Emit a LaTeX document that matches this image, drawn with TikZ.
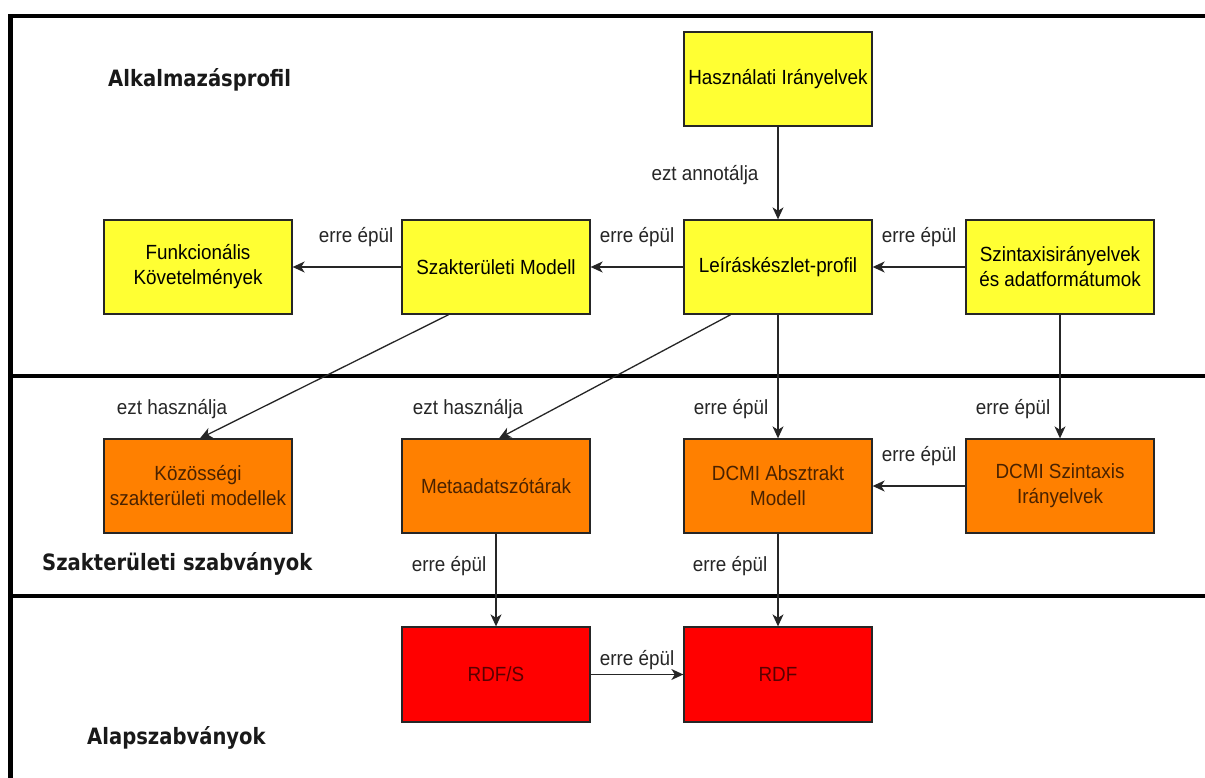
\documentclass[tikz,border=0pt]{standalone}
\usepackage{fontspec}
\setmainfont{Liberation Sans}[FakeStretch=0.92]
\newfontfamily\headfont{DejaVu Sans}[FakeStretch=0.87]
\usetikzlibrary{arrows.meta,calc}
\definecolor{ylw}{HTML}{FFFF33}
\definecolor{org}{HTML}{FF8000}
\definecolor{rd}{HTML}{FF0000}
\definecolor{edgec}{HTML}{262626}
\definecolor{orgtext}{HTML}{4A2200}
\definecolor{rdtext}{HTML}{5A0000}
\begin{document}
\begin{tikzpicture}[x=1pt,y=-1pt,
  box/.style={draw=edgec, line width=1.3pt, minimum width=188pt, minimum height=94pt,
    inner sep=0pt, align=center, font=\fontsize{20.5}{25}\selectfont},
  ybox/.style={box, fill=ylw, text=black},
  obox/.style={box, fill=org, text=orgtext},
  rbox/.style={box, fill=rd, text=rdtext, minimum height=95pt},
  conn/.style={draw=edgec, line width=1.3pt, -{Stealth[length=12pt,width=11pt,inset=3.5pt]}},
  lbl/.style={font=\fontsize{20.5}{25}\selectfont, text=black!85, inner sep=0pt},
  head/.style={font=\headfont\bfseries\fontsize{22.5}{26}\selectfont, text=black!90, inner sep=0pt, anchor=west},
  frame/.style={line width=4.5pt, draw=black}
]
\useasboundingbox (0,0) rectangle (1205,778);
\fill[white] (0,0) rectangle (1205,778);

% frame and dividers
\draw[frame, line join=miter] (10.5,778) -- (10.5,16) -- (1205,16);
\draw[frame] (10.5,376) -- (1205,376);
\draw[frame] (10.5,596) -- (1205,596);

% headings
\node[head] (h1) at (108,80) {Alkalmazásprofil};
\node[head] (h2) at (42,564) {Szakterületi szabványok};
\node[head] (h3) at (87,738) {Alapszabványok};

% boxes
\node[ybox] (hasz) at (778,79) {Használati Irányelvek};
\node[ybox] (funk) at (198,267) {Funkcionális\\Követelmények};
\node[ybox] (szak) at (496,267) {Szakterületi Modell};
\node[ybox] (leir) at (778,267) {Leíráskészlet-profil};
\node[ybox] (szint) at (1060,267) {Szintaxisirányelvek\\és adatformátumok};

\node[obox] (koz) at (198,486) {Közösségi\\szakterületi modellek};
\node[obox] (meta) at (496,486) {Metaadatszótárak};
\node[obox] (dcmia) at (778,486) {DCMI Absztrakt\\Modell};
\node[obox] (dcmis) at (1060,486) {DCMI Szintaxis\\Irányelvek};

\node[rbox] (rdfs) at (496,674.5) {RDF/S};
\node[rbox] (rdf) at (778,674.5) {RDF};

% connectors
\draw[conn] (hasz.south) -- (leir.north);
\draw[conn] (leir.west) -- (szak.east);
\draw[conn] (szak.west) -- (funk.east);
\draw[conn] (szint.west) -- (leir.east);
\draw[conn] ($(szak.south west)!0.25!(szak.south east)$) -- ($(koz.north)+(2,0)$);
\draw[conn] ($(leir.south west)!0.25!(leir.south east)$) -- ($(meta.north)+(3,0)$);
\draw[conn] (leir.south) -- (dcmia.north);
\draw[conn] (szint.south) -- (dcmis.north);
\draw[conn] (dcmis.west) -- (dcmia.east);
\draw[conn] (meta.south) -- (rdfs.north);
\draw[conn] (dcmia.south) -- (rdf.north);
\draw[conn] (rdfs.east) -- (rdf.west);

% connector labels
\node[lbl] (l1) at (705,175) {ezt annotálja};
\node[lbl] (l2) at (637,237) {erre épül};
\node[lbl] (l3) at (356,237) {erre épül};
\node[lbl] (l4) at (919,237) {erre épül};
\node[lbl] (l5) at (172,409) {ezt használja};
\node[lbl] (l6) at (468,409) {ezt használja};
\node[lbl] (l7) at (731,409) {erre épül};
\node[lbl] (l8) at (1013,409) {erre épül};
\node[lbl] (l9) at (919,456) {erre épül};
\node[lbl] (l10) at (449,566) {erre épül};
\node[lbl] (l11) at (730,566) {erre épül};
\node[lbl] (l12) at (637,660) {erre épül};
\end{tikzpicture}
\end{document}
